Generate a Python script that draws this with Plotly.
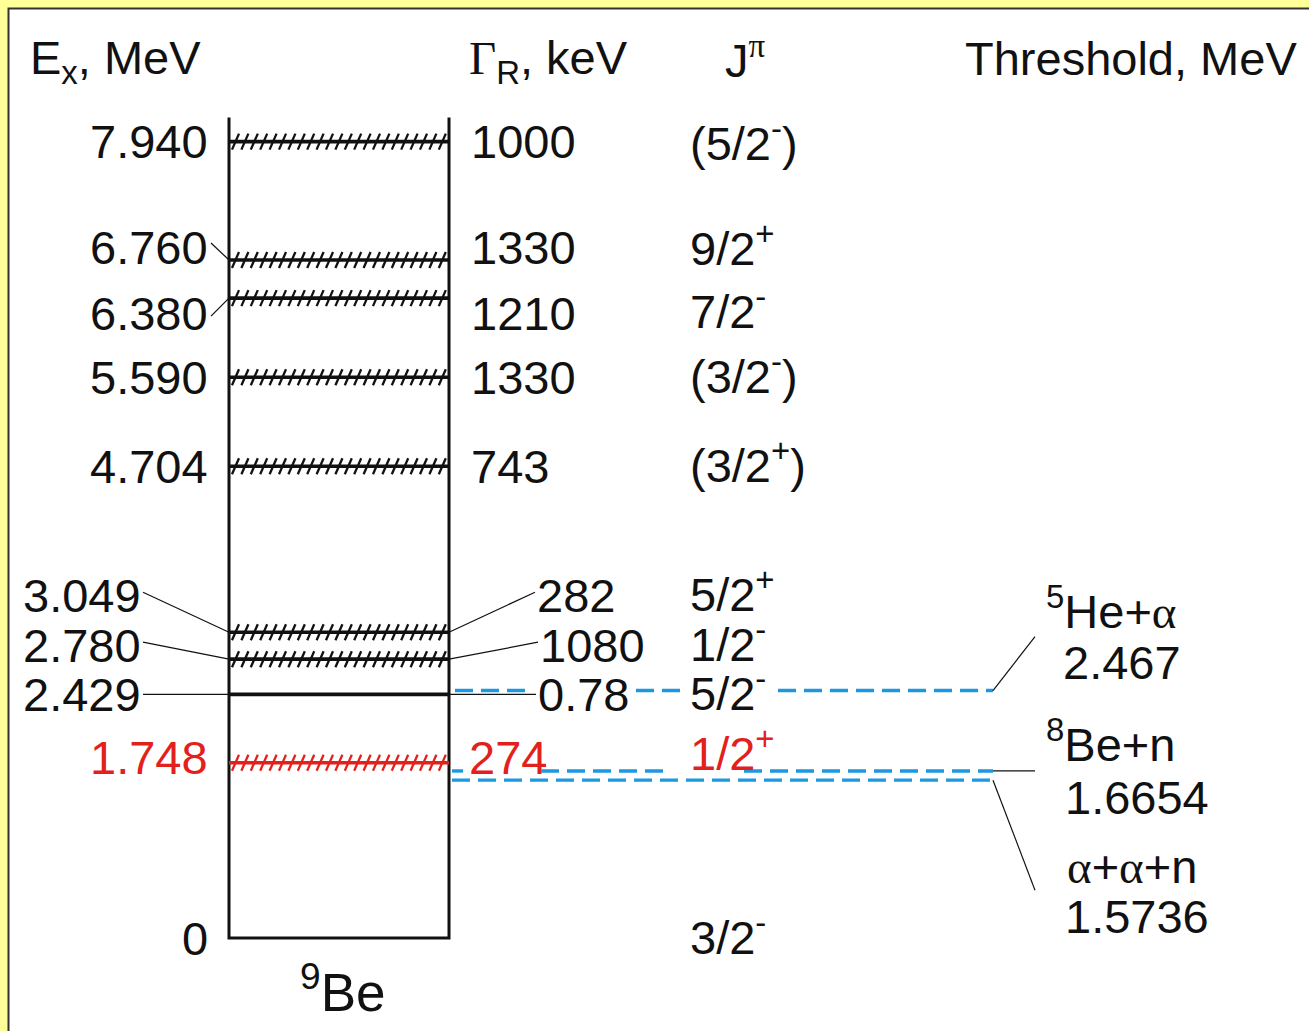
import plotly.graph_objects as go

# ---------------- data ----------------
level_E = [7.940, 6.760, 6.380, 5.590, 4.704, 3.049, 2.780, 2.429, 1.748, 0.0]
level_label = ["7.940", "6.760", "6.380", "5.590", "4.704", "3.049", "2.780", "2.429", "1.748", "0"]
width_keV = ["1000", "1330", "1210", "1330", "743", "282", "1080", "0.78", "274", ""]
spin_parity = ["(5/2<sup>-</sup>)", "9/2<sup>+</sup>", "7/2<sup>-</sup>", "(3/2<sup>-</sup>)",
               "(3/2<sup>+</sup>)", "5/2<sup>+</sup>", "1/2<sup>-</sup>", "5/2<sup>-</sup>",
               "1/2<sup>+</sup>", "3/2<sup>-</sup>"]
is_broad = [True, True, True, True, True, True, True, False, True, False]
highlight_E = 1.748

threshold_E = [2.467, 1.6654, 1.5736]
threshold_label = ["<sup>5</sup>He+<span style=\"font-family:Liberation Serif\">α</span>",
                   "<sup>8</sup>Be+n",
                   "<span style=\"font-family:Liberation Serif\">α</span>+<span style=\"font-family:Liberation Serif\">α</span>+n"]
threshold_value = ["2.467", "1.6654", "1.5736"]
nucleus = "<sup>9</sup>Be"

# ---------------- layout helpers (pixels -> MeV) ----------------
PX_PER_MEV = 100.3
Y0_PX = 938.0
W, H = 1309, 1031
def mev(px_offset):  # vertical pixel offset (positive = up) -> MeV
    return px_offset / PX_PER_MEV

y_range = [(Y0_PX - H) / PX_PER_MEV, Y0_PX / PX_PER_MEV]

BOX_L, BOX_R = 229, 449
FONT = "Arial, Liberation Sans, sans-serif"
FS = 47
BLACK = "#111111"
RED = "#E3211C"
BLUE = "#1C98E0"
SERIF = "<span style=\"font-family:Liberation Serif\">{}</span>"

# label vertical offsets in pixels (positive = up), layout only
left_dy = [0, 12, -15, 0, 0, 37, 14, 0, 5, 0]
left_x = [207, 207, 207, 207, 207, 140, 140, 140, 207, 207]
gam_x = [472, 472, 472, 472, 472, 538, 541, 539, 470, 472]
spin_dy = [2, 15, -10, 4, 4, 41, 18, 4, 13, 4]

fig = go.Figure()

# white panel with border
shapes = [dict(type="rect", xref="paper", yref="paper", x0=8.5 / W, x1=1.2,
               y0=-0.2, y1=1 - 8.5 / H, fillcolor="white",
               line=dict(color="#333333", width=2), layer="below")]

# ---------------- box of 9Be ----------------
top_box = 8.18
fig.add_trace(go.Scatter(x=[BOX_L, BOX_L, BOX_R, BOX_R], y=[top_box, 0, 0, top_box],
                         mode="lines", line=dict(color=BLACK, width=3), hoverinfo="skip"))

# ---------------- levels ----------------
hh = mev(8)
for E, broad in zip(level_E, is_broad):
    if E == 0:
        continue
    col = RED if E == highlight_E else BLACK
    fig.add_trace(go.Scatter(x=[BOX_L, BOX_R], y=[E, E], mode="lines",
                             line=dict(color=col, width=3.6), hoverinfo="skip"))
    if broad:
        xs, ys = [], []
        x = BOX_L + 3
        while x + 7 <= BOX_R:
            xs += [x, x + 7, None]
            ys += [E - hh, E + hh, None]
            x += 9.4
        fig.add_trace(go.Scatter(x=xs, y=ys, mode="lines",
                                 line=dict(color=col, width=2.3), hoverinfo="skip"))

# ---------------- leader lines for shifted labels ----------------
lx, ly = [], []
for E, dy, xl in zip(level_E, left_dy, left_x):
    if xl == 140:
        lx += [143, BOX_L, None]
        ly += [E + mev(dy) + mev(3 if dy else 0), E, None]
    elif dy != 0 and E != highlight_E:
        lx += [211, BOX_L, None]
        ly += [E + mev(dy) + mev(5 if dy > 0 else -3), E, None]
for E, dy, xg in zip(level_E, left_dy, gam_x):
    if xg > 500:
        lx += [BOX_R, xg - 3, None]
        ly += [E, E + mev(dy) + mev(3 if dy else 0), None]
fig.add_trace(go.Scatter(x=lx, y=ly, mode="lines", line=dict(color=BLACK, width=1.2),
                         hoverinfo="skip"))

# ---------------- threshold dashed lines ----------------
gaps = {
    0: [(455, 532), (636, 684), (778, 993)],
    1: [(452, 463), (541, 666), (744, 993)],
    2: [(452, 993)],
}
for i, E in enumerate(threshold_E):
    xs, ys = [], []
    for a, b in gaps[i]:
        xs += [a, b, None]
        ys += [E, E, None]
    fig.add_trace(go.Scatter(x=xs, y=ys, mode="lines",
                             line=dict(color=BLUE, width=3.4, dash="18px,8px"), hoverinfo="skip"))

# threshold connectors
tx = [993, 1035, None, 993, 1035, None, 993, 1035]
ty = [threshold_E[0], threshold_E[0] + mev(54), None,
      threshold_E[1], threshold_E[1], None,
      threshold_E[2], threshold_E[2] - mev(110)]
fig.add_trace(go.Scatter(x=tx, y=ty, mode="lines", line=dict(color=BLACK, width=1.2),
                         hoverinfo="skip"))

# ---------------- annotations ----------------
ann = []
def txt(x, y, s, anchor="left", color=BLACK, size=FS):
    xadj = {"left": -3, "right": 3, "center": 0}[anchor]
    ann.append(dict(x=x + xadj, y=y, xref="x", yref="y", text=s, showarrow=False,
                    xanchor=anchor, yanchor="middle",
                    font=dict(family=FONT, size=size, color=color)))

for E, lab, dy, xl in zip(level_E, level_label, left_dy, left_x):
    col = RED if E == highlight_E else BLACK
    txt(xl, E + mev(dy), lab, "right", col)
for E, g, dy, xg in zip(level_E, width_keV, left_dy, gam_x):
    if g:
        col = RED if E == highlight_E else BLACK
        txt(xg, E + mev(dy), g, "left", col)
for E, s, dy in zip(level_E, spin_parity, spin_dy):
    col = RED if E == highlight_E else BLACK
    txt(691, E + mev(dy), s, "left", col)

# headers
hy = mev(Y0_PX - 58)
txt(31, hy - mev(3), "E<sub>x</sub>, MeV")
txt(470, hy - mev(3), SERIF.format("Γ") + "<sub>R</sub>, keV")
txt(726, hy + mev(1), "J<sup>" + SERIF.format("π") + "</sup>")
txt(1296, hy, "Threshold, MeV", "right")

# thresholds
name_px = [608, 741, 866]
val_px = [662, 797, 916]
name_x = [1047, 1047, 1068]
val_x = [1064, 1066, 1066]
for i in range(3):
    txt(name_x[i], mev(Y0_PX - name_px[i]), threshold_label[i])
    txt(val_x[i], mev(Y0_PX - val_px[i]), threshold_value[i])

txt(342, mev(Y0_PX - 988), nucleus, "center", size=53)

fig.update_layout(
    width=W, height=H, margin=dict(l=0, r=0, t=0, b=0),
    paper_bgcolor="#FFFF99", plot_bgcolor="rgba(0,0,0,0)",
    showlegend=False, shapes=shapes, annotations=ann,
    xaxis=dict(range=[0, W], visible=False, fixedrange=True),
    yaxis=dict(range=y_range, visible=False, fixedrange=True),
)
fig.write_html("out.html", config={"displayModeBar": False},
               post_script="document.body.style.margin='0';document.body.style.overflow='hidden';document.body.style.background='#FFFF99';")
